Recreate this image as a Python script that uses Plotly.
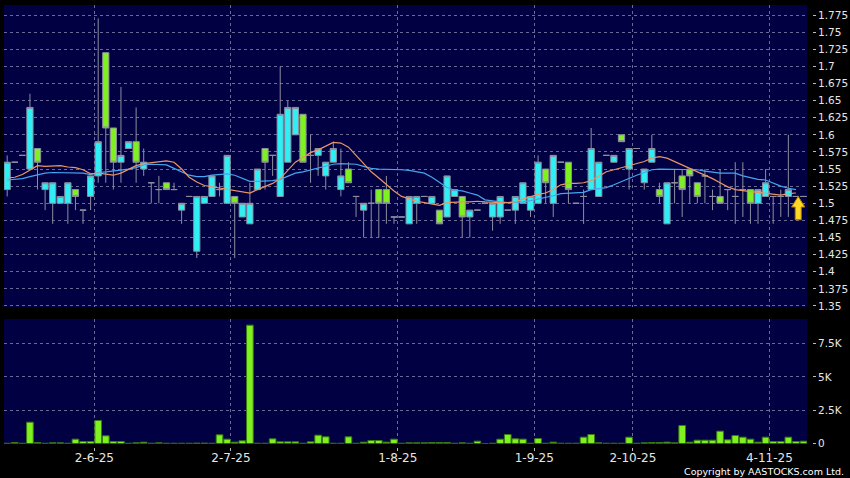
import plotly.graph_objects as go

# ---------------- data ----------------
opens = [1.52, 1.56, 1.57, 1.55, 1.58, 1.52, 1.50, 1.50, 1.50, 1.52,
         1.49, 1.51, 1.54, 1.72, 1.61, 1.56, 1.58, 1.59, 1.55, 1.53,
         1.52, 1.53, 1.52, 1.49, 1.51, 1.43, 1.50, 1.51, 1.52, 1.50,
         1.51, 1.48, 1.47, 1.52, 1.58, 1.57, 1.51, 1.56, 1.60, 1.63,
         1.57, 1.57, 1.54, 1.56, 1.52, 1.55, 1.51, 1.49, 1.50, 1.52,
         1.52, 1.48, 1.48, 1.47, 1.50, 1.51, 1.50, 1.49, 1.48, 1.51,
         1.51, 1.48, 1.49, 1.50, 1.48, 1.48, 1.49, 1.49, 1.50, 1.49,
         1.50, 1.55, 1.50, 1.56, 1.56, 1.50, 1.51, 1.52, 1.51, 1.57,
         1.56, 1.60, 1.55, 1.58, 1.53, 1.56, 1.52, 1.47, 1.53, 1.54,
         1.55, 1.53, 1.54, 1.51, 1.51, 1.52, 1.51, 1.52, 1.52, 1.50,
         1.51, 1.51, 1.51, 1.51, 1.51, 1.51]
highs = [1.57, 1.56, 1.57, 1.66, 1.58, 1.53, 1.53, 1.51, 1.53, 1.52,
         1.49, 1.54, 1.77, 1.72, 1.61, 1.67, 1.59, 1.64, 1.58, 1.53,
         1.54, 1.53, 1.53, 1.50, 1.51, 1.51, 1.51, 1.54, 1.53, 1.57,
         1.51, 1.50, 1.53, 1.55, 1.58, 1.57, 1.70, 1.65, 1.64, 1.63,
         1.60, 1.58, 1.56, 1.59, 1.58, 1.56, 1.51, 1.50, 1.52, 1.52,
         1.54, 1.48, 1.48, 1.51, 1.51, 1.51, 1.51, 1.49, 1.54, 1.52,
         1.51, 1.49, 1.49, 1.50, 1.50, 1.51, 1.49, 1.51, 1.53, 1.51,
         1.57, 1.55, 1.57, 1.56, 1.56, 1.50, 1.52, 1.61, 1.56, 1.57,
         1.57, 1.60, 1.58, 1.58, 1.55, 1.60, 1.53, 1.53, 1.55, 1.55,
         1.55, 1.53, 1.55, 1.52, 1.55, 1.52, 1.56, 1.56, 1.52, 1.52,
         1.55, 1.51, 1.52, 1.60, 1.51, 1.51]
lows = [1.51, 1.56, 1.57, 1.55, 1.52, 1.49, 1.47, 1.50, 1.47, 1.49,
        1.47, 1.49, 1.53, 1.53, 1.52, 1.53, 1.58, 1.53, 1.54, 1.50,
        1.50, 1.52, 1.52, 1.47, 1.51, 1.42, 1.50, 1.51, 1.51, 1.50,
        1.42, 1.48, 1.47, 1.52, 1.52, 1.54, 1.51, 1.56, 1.60, 1.56,
        1.53, 1.54, 1.52, 1.56, 1.51, 1.53, 1.48, 1.45, 1.45, 1.45,
        1.47, 1.47, 1.48, 1.47, 1.47, 1.51, 1.50, 1.47, 1.48, 1.51,
        1.45, 1.45, 1.49, 1.50, 1.46, 1.47, 1.49, 1.47, 1.50, 1.48,
        1.50, 1.50, 1.48, 1.56, 1.50, 1.50, 1.47, 1.52, 1.51, 1.57,
        1.56, 1.59, 1.52, 1.58, 1.52, 1.56, 1.50, 1.47, 1.50, 1.48,
        1.50, 1.50, 1.50, 1.49, 1.50, 1.49, 1.47, 1.48, 1.47, 1.47,
        1.51, 1.47, 1.48, 1.48, 1.51, 1.51]
closes = [1.56, 1.56, 1.57, 1.64, 1.56, 1.53, 1.53, 1.51, 1.53, 1.51,
          1.49, 1.54, 1.59, 1.61, 1.56, 1.57, 1.59, 1.56, 1.56, 1.53,
          1.52, 1.52, 1.52, 1.50, 1.51, 1.51, 1.51, 1.54, 1.52, 1.57,
          1.50, 1.50, 1.50, 1.55, 1.56, 1.57, 1.63, 1.64, 1.64, 1.56,
          1.57, 1.58, 1.56, 1.58, 1.54, 1.53, 1.51, 1.50, 1.50, 1.50,
          1.50, 1.48, 1.48, 1.51, 1.51, 1.51, 1.51, 1.47, 1.54, 1.52,
          1.48, 1.49, 1.49, 1.50, 1.50, 1.51, 1.49, 1.51, 1.53, 1.51,
          1.56, 1.53, 1.57, 1.56, 1.52, 1.50, 1.51, 1.58, 1.56, 1.57,
          1.57, 1.59, 1.58, 1.58, 1.55, 1.58, 1.51, 1.53, 1.53, 1.52,
          1.54, 1.51, 1.54, 1.51, 1.50, 1.52, 1.51, 1.52, 1.50, 1.52,
          1.53, 1.51, 1.51, 1.52, 1.51, 1.51]
volumes = [20, 75, 20, 1600, 75, 20, 50, 50, 20, 325,
           150, 150, 1725, 575, 150, 150, 20, 50, 100, 20,
           50, 20, 20, 20, 20, 30, 30, 20, 650, 325,
           100, 200, 8875, 20, 20, 350, 125, 125, 125, 20,
           125, 625, 500, 20, 20, 500, 20, 100, 225, 225,
           100, 325, 20, 50, 50, 50, 75, 75, 75, 20,
           50, 20, 175, 0, 20, 325, 675, 350, 325, 20,
           375, 20, 100, 20, 20, 20, 475, 675, 50, 20,
           20, 20, 475, 20, 50, 75, 75, 100, 50, 1350,
           100, 250, 250, 250, 925, 275, 600, 475, 325, 100,
           475, 150, 150, 475, 150, 175]
ma_short = [1.537, 1.538, 1.542, 1.549, 1.555, 1.554, 1.555, 1.555, 1.553, 1.552,
            1.549, 1.543, 1.544, 1.542, 1.541, 1.544, 1.550, 1.555, 1.558, 1.559,
            1.561, 1.562, 1.560, 1.550, 1.538, 1.531, 1.526, 1.524, 1.523, 1.521,
            1.519, 1.517, 1.515, 1.520, 1.525, 1.529, 1.536, 1.548, 1.560, 1.567,
            1.574, 1.578, 1.584, 1.589, 1.588, 1.582, 1.570, 1.558, 1.546, 1.537,
            1.527, 1.518, 1.510, 1.506, 1.503, 1.501, 1.499, 1.497, 1.501, 1.502,
            1.502, 1.502, 1.503, 1.502, 1.501, 1.501, 1.501, 1.502, 1.506, 1.510,
            1.513, 1.515, 1.520, 1.527, 1.529, 1.529, 1.530, 1.533, 1.539, 1.546,
            1.549, 1.552, 1.555, 1.557, 1.561, 1.566, 1.568, 1.566, 1.561, 1.556,
            1.552, 1.547, 1.541, 1.536, 1.530, 1.524, 1.520, 1.518, 1.517, 1.516,
            1.515, 1.514, 1.512, 1.514, 1.515]
ma_long = [1.534, 1.535, 1.536, 1.539, 1.542, 1.544, 1.545, 1.545, 1.545, 1.545,
           1.544, 1.542, 1.545, 1.546, 1.547, 1.548, 1.550, 1.552, 1.556, 1.557,
           1.557, 1.556, 1.551, 1.546, 1.541, 1.539, 1.539, 1.541, 1.542, 1.543,
           1.541, 1.537, 1.532, 1.532, 1.532, 1.533, 1.535, 1.539, 1.544, 1.546,
           1.549, 1.551, 1.554, 1.557, 1.558, 1.558, 1.557, 1.554, 1.551, 1.550,
           1.550, 1.549, 1.549, 1.548, 1.546, 1.544, 1.538, 1.530, 1.523, 1.519,
           1.518, 1.515, 1.512, 1.505, 1.503, 1.502, 1.501, 1.501, 1.502, 1.504,
           1.506, 1.509, 1.511, 1.514, 1.515, 1.516, 1.516, 1.520, 1.522, 1.523,
           1.527, 1.532, 1.537, 1.541, 1.545, 1.549, 1.550, 1.550, 1.550, 1.550,
           1.550, 1.549, 1.547, 1.545, 1.544, 1.544, 1.544, 1.540, 1.537, 1.535,
           1.534, 1.529, 1.525, 1.522, 1.520]

date_labels = ["2-6-25", "2-7-25", "1-8-25", "1-9-25", "2-10-25", "4-11-25"]
date_positions = [11.5, 29.5, 51.5, 69.5, 82.5, 100.5]
price_ticks = [1.35, 1.375, 1.4, 1.425, 1.45, 1.475, 1.5, 1.525, 1.55,
               1.575, 1.6, 1.625, 1.65, 1.675, 1.7, 1.725, 1.75, 1.775]
vol_ticks = [0, 2500, 5000, 7500]
vol_tick_labels = ["0", "2.5K", "5K", "7.5K"]

# ---------------- styles ----------------
NAVY = "#000042"
GRID = "rgba(125,125,165,0.85)"
CYAN = "#2FEFF6"
GREEN = "#7FF020"
EDGE = "#8E8E9E"
FONT = "DejaVu Sans"

x = list(range(len(closes)))

fig = go.Figure()
fig.add_trace(go.Candlestick(
    x=x, open=opens, high=highs, low=lows, close=closes,
    increasing=dict(line=dict(color=EDGE, width=1), fillcolor=CYAN),
    decreasing=dict(line=dict(color=EDGE, width=1), fillcolor=GREEN),
    whiskerwidth=0, xaxis="x", yaxis="y", hoverinfo="skip", showlegend=False))
fig.add_trace(go.Scatter(x=x[:len(ma_long)], y=ma_long, mode="lines",
                         line=dict(color="#45A5EE", width=1.2),
                         xaxis="x", yaxis="y", hoverinfo="skip"))
fig.add_trace(go.Scatter(x=x[:len(ma_short)], y=ma_short, mode="lines",
                         line=dict(color="#EA9565", width=1.2),
                         xaxis="x", yaxis="y", hoverinfo="skip"))
fig.add_trace(go.Bar(x=x, y=volumes, xaxis="x2", yaxis="y2",
                     marker=dict(color=GREEN, line=dict(color="#3A7A12", width=1)),
                     hoverinfo="skip"))

# arrow marking the latest close
xt = x[-1] - 0.7
yt = closes[-1]
hw, sw, hh, th = 0.88, 0.40, 0.0155, 0.034
arrow_path = (f"M {xt},{yt} L {xt + hw},{yt - hh} L {xt + sw},{yt - hh} "
              f"L {xt + sw},{yt - th} L {xt - sw},{yt - th} L {xt - sw},{yt - hh} "
              f"L {xt - hw},{yt - hh} Z")
fig.add_shape(type="path", path=arrow_path, xref="x", yref="y",
              fillcolor="#FFD826", line=dict(color="#B27800", width=1), layer="above")

xrange = [-0.42, 105.5]
common_x = dict(range=xrange, domain=[0, 0.9942], tickvals=date_positions,
                showgrid=True, gridcolor=GRID, griddash="3px,3px", gridwidth=1,
                zeroline=False, showline=False, fixedrange=True, automargin=False)

fig.update_layout(
    width=850, height=478,
    margin=dict(l=4, r=38, t=5, b=31, autoexpand=False),
    paper_bgcolor="#000000", plot_bgcolor=NAVY,
    showlegend=False, boxgap=0.18, boxgroupgap=0, bargap=0.12,
    font=dict(family=FONT, color="#E6E6E6"),
    xaxis=dict(**common_x, anchor="y", showticklabels=False, ticks="",
               rangeslider=dict(visible=False)),
    xaxis2=dict(**common_x, anchor="free", position=0, ticktext=date_labels,
                ticks="outside", ticklen=3, tickcolor="#BBBBBB",
                ticklabelstandoff=-3,
                tickfont=dict(family=FONT, size=12, color="#E6E6E6")),
    yaxis=dict(domain=[0.3167, 1], range=[1.3485, 1.7896], side="right",
               anchor="free", position=1, tickvals=price_ticks,
               ticktext=[f"{v:g}" for v in price_ticks],
               ticks="outside", ticklen=3, tickcolor="#BBBBBB",
               tickfont=dict(family=FONT, size=10.5, color="#E6E6E6"),
               showgrid=True, gridcolor=GRID, griddash="3px,3px",
               zeroline=False, showline=False, fixedrange=True, automargin=False),
    yaxis2=dict(domain=[0.0079, 0.2896], range=[0, 9338], side="right",
                anchor="free", position=1, tickvals=vol_ticks,
                ticktext=vol_tick_labels,
                ticks="outside", ticklen=3, tickcolor="#BBBBBB",
                tickfont=dict(family=FONT, size=10.5, color="#E6E6E6"),
                showgrid=True, gridcolor=GRID, griddash="3px,3px",
                zeroline=False, showline=False, fixedrange=True, automargin=False),
)

fig.add_annotation(text="Copyright by AASTOCKS.com Ltd.", xref="paper", yref="paper",
                   x=1.0417, y=-0.0559, xanchor="right", yanchor="middle",
                   showarrow=False, font=dict(family=FONT, size=9.5, color="#FFFFFF"))

fig.write_html("out.html",
               config={"displayModeBar": False, "staticPlot": True},
               post_script="document.body.style.margin='0px';"
                           "document.body.style.background='#000000';")
